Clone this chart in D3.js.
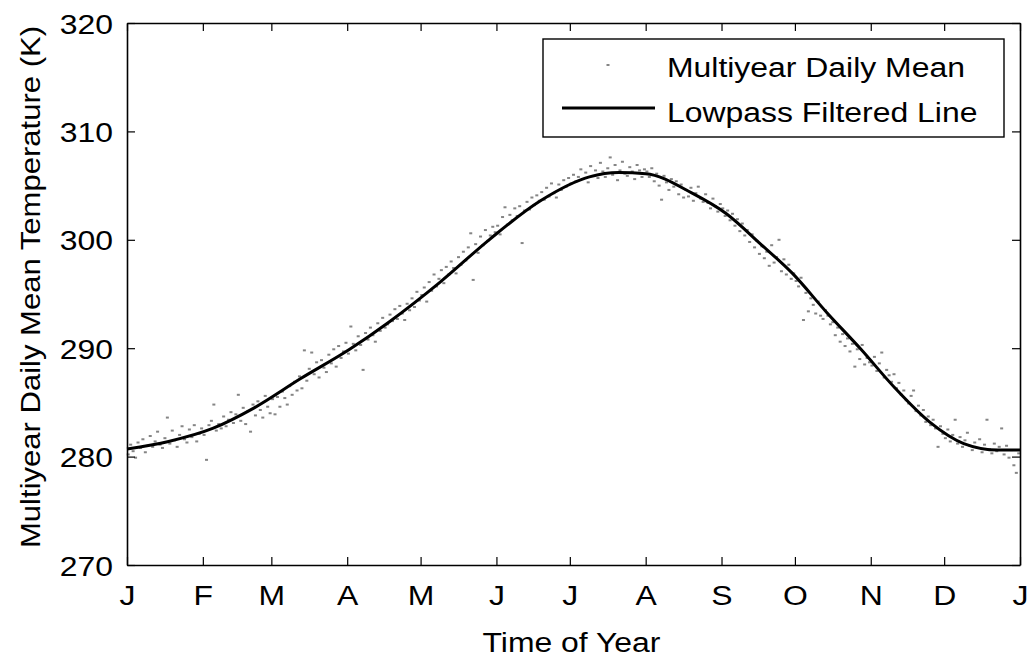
<!DOCTYPE html>
<html>
<head>
<meta charset="utf-8">
<script src="https://cdn.jsdelivr.net/npm/d3@7"></script>
<style>
  body { margin: 0; background: #fff; }
  text { font-family: "Liberation Sans", Arial, sans-serif; fill: #000; }
</style>
</head>
<body>
<svg width="1028" height="660"></svg>
<script>
// Multiyear daily mean temperature (K), one value per day, month by month
const janMean = [280.2, 281.1, 280.5, 279.9, 281.3, 280.8, 281.6, 280.4, 281.0, 281.9, 280.9, 281.4, 282.3, 281.1, 280.8, 281.7, 283.6, 281.2, 282.4, 281.5, 280.9, 282.0, 282.8, 281.6, 281.3, 282.5, 281.8, 282.9, 281.4, 282.1, 282.6];
const febMean = [282.0, 279.7, 282.9, 283.3, 284.8, 282.4, 283.0, 282.6, 283.7, 282.8, 283.4, 284.1, 283.1, 283.9, 285.7, 283.3, 284.5, 283.0, 284.2, 282.3, 284.8, 283.8, 285.1, 284.3, 283.6, 285.6, 284.6, 284.0];
const marMean = [285.3, 283.9, 285.5, 284.6, 286.0, 285.4, 284.8, 286.5, 285.7, 286.9, 286.1, 287.4, 286.3, 289.8, 287.0, 288.1, 289.6, 287.6, 288.7, 287.3, 288.9, 288.2, 287.8, 289.4, 288.6, 289.9, 288.3, 290.2, 289.1, 289.7, 290.5];
const aprMean = [289.5, 292.0, 290.4, 289.8, 291.1, 290.3, 288.0, 291.4, 290.8, 291.9, 291.2, 290.6, 292.3, 291.6, 292.8, 291.9, 292.2, 293.1, 292.5, 293.6, 292.7, 293.9, 293.2, 292.6, 294.1, 293.5, 294.6, 293.8, 295.2, 294.4];
const mayMean = [294.9, 295.6, 294.3, 296.1, 295.3, 296.8, 295.7, 296.4, 297.2, 296.0, 297.5, 296.8, 298.0, 297.4, 296.9, 298.4, 297.7, 298.9, 298.1, 299.3, 300.6, 296.3, 299.6, 298.8, 300.3, 299.5, 300.9, 299.9, 300.4, 301.2, 300.7];
const junMean = [301.3, 300.5, 302.1, 303.0, 301.4, 302.3, 301.8, 302.9, 302.2, 303.1, 299.7, 302.7, 303.5, 302.8, 303.9, 303.2, 304.1, 303.6, 304.4, 303.7, 304.8, 304.0, 305.2, 304.3, 303.9, 305.1, 304.6, 305.5, 304.9, 305.7];
const julMean = [305.2, 306.0, 305.4, 305.8, 306.5, 305.6, 306.2, 305.3, 306.8, 305.9, 306.4, 305.7, 307.1, 306.3, 305.8, 306.6, 307.6, 306.0, 306.9, 305.5, 306.4, 307.2, 306.1, 305.9, 306.7, 306.3, 305.6, 306.9, 306.4, 305.8, 306.5];
const augMean = [306.3, 305.8, 306.6, 305.4, 306.1, 305.0, 303.7, 305.9, 305.3, 304.6, 305.6, 304.9, 305.4, 304.2, 305.1, 303.9, 304.6, 304.0, 304.8, 303.6, 304.3, 304.9, 303.8, 303.5, 304.2, 303.4, 302.9, 303.8, 303.1, 302.6, 303.3];
const sepMean = [302.9, 302.2, 302.7, 301.8, 302.4, 301.3, 301.9, 300.8, 301.5, 300.4, 300.9, 299.8, 300.5, 299.3, 299.9, 298.7, 299.4, 298.3, 298.9, 297.6, 299.5, 297.9, 298.4, 300.0, 297.1, 298.2, 296.8, 297.7, 296.4, 296.9];
const octMean = [296.2, 295.7, 296.5, 292.6, 295.1, 293.4, 294.6, 294.0, 293.2, 294.3, 293.0, 292.7, 293.5, 293.0, 292.2, 292.4, 291.2, 291.9, 290.6, 291.3, 290.2, 290.9, 289.7, 290.4, 288.3, 289.9, 289.0, 290.3, 288.5, 289.1, 288.7];
const novMean = [288.4, 289.2, 287.9, 288.6, 289.6, 287.3, 288.0, 287.5, 286.9, 287.6, 286.3, 286.8, 285.7, 286.1, 285.2, 284.9, 285.6, 286.1, 284.2, 284.7, 283.8, 284.3, 283.2, 283.7, 282.9, 283.4, 282.6, 280.9, 282.8, 282.1];
const decMean = [281.7, 282.5, 281.4, 282.0, 283.4, 281.2, 281.8, 280.9, 281.5, 282.2, 281.0, 280.6, 281.3, 280.8, 281.6, 280.4, 281.1, 283.4, 280.7, 280.3, 281.2, 280.5, 280.9, 282.6, 280.2, 281.0, 279.9, 280.6, 279.2, 278.5, 280.3];

// Lowpass filtered line, read at these days of year
const lowpassDays = [0, 17, 35, 52, 71, 91, 107, 128, 148, 169, 189, 201, 212, 231, 245, 259, 272, 286, 300, 314, 328, 342, 356, 365];
const lowpassTemp = [280.7, 281.4, 282.6, 284.5, 287.2, 289.9, 292.4, 296.1, 300.0, 303.6, 305.8, 306.2, 306.1, 304.3, 302.4, 299.6, 296.9, 293.3, 289.9, 286.3, 283.2, 281.2, 280.6, 280.6];

// Axis ticks
const monthStarts = [0, 31, 59, 90, 120, 151, 181, 212, 243, 273, 304, 334, 365];
const monthLabels = ["J", "F", "M", "A", "M", "J", "J", "A", "S", "O", "N", "D", "J"];
const tempTicks = [270, 280, 290, 300, 310, 320];

const dailyMean = [].concat(janMean, febMean, marMean, aprMean, mayMean, junMean,
  julMean, augMean, sepMean, octMean, novMean, decMean);

const svg = d3.select("svg");
const width = +svg.attr("width");
const height = +svg.attr("height");
const margin = {top: 23, left: 127, bottom: 95, right: 8};
const stretch = 1.14; // text in the picture is a bit wider than Arial

const x = d3.scaleLinear().domain([0, 365]).range([margin.left, width - margin.right]);
const y = d3.scaleLinear().domain([270, 320]).range([height - margin.bottom, margin.top]);

svg.append("rect").attr("width", width).attr("height", height).attr("fill", "#fff");

// scatter of daily means
svg.append("g")
  .selectAll("rect")
  .data(dailyMean)
  .enter().append("rect")
    .attr("x", (d, i) => x(i + 0.5) - 1.5)
    .attr("y", d => y(d) - 1)
    .attr("width", 3)
    .attr("height", 2)
    .attr("fill", "#333")
    .attr("opacity", 0.6);

// lowpass line
const line = d3.line()
  .x((d, i) => x(lowpassDays[i]))
  .y(d => y(d))
  .curve(d3.curveMonotoneX);

svg.append("path")
  .attr("d", line(lowpassTemp))
  .attr("fill", "none")
  .attr("stroke", "#000")
  .attr("stroke-width", 3);

// axes (ticks point inward, box on all sides)
const styleAxis = g => {
  g.selectAll(".domain").attr("stroke", "#000").attr("stroke-width", 1.6);
  g.selectAll(".tick line").attr("stroke", "#000").attr("stroke-width", 1.2);
};

const xAxisG = svg.append("g")
  .attr("transform", `translate(0, ${height - margin.bottom})`)
  .call(d3.axisBottom(x).tickValues(monthStarts).tickFormat((d, i) => monthLabels[i])
    .tickSizeInner(-8).tickSizeOuter(0))
  .call(styleAxis);
xAxisG.selectAll("text")
  .attr("y", 0).attr("dy", null)
  .attr("font-size", 28)
  .attr("font-family", "Liberation Sans, Arial, sans-serif")
  .attr("transform", `translate(0, 40) scale(${stretch}, 1)`);

const yAxisG = svg.append("g")
  .attr("transform", `translate(${margin.left}, 0)`)
  .call(d3.axisLeft(y).tickValues(tempTicks).tickSizeInner(-8).tickSizeOuter(0))
  .call(styleAxis);
yAxisG.selectAll("text")
  .attr("x", 0).attr("dy", null)
  .attr("font-size", 28)
  .attr("font-family", "Liberation Sans, Arial, sans-serif")
  .attr("transform", `translate(-14, 10) scale(${stretch}, 1)`);

svg.append("g")
  .attr("transform", `translate(0, ${margin.top})`)
  .call(d3.axisTop(x).tickValues(monthStarts).tickFormat("").tickSizeInner(-8).tickSizeOuter(0))
  .call(styleAxis);

svg.append("g")
  .attr("transform", `translate(${width - margin.right}, 0)`)
  .call(d3.axisRight(y).tickValues(tempTicks).tickFormat("").tickSizeInner(-8).tickSizeOuter(0))
  .call(styleAxis);

// axis titles
svg.append("text")
  .attr("transform", `translate(${(x(0) + x(365)) / 2 - 2}, 652) scale(${stretch}, 1)`)
  .attr("text-anchor", "middle")
  .attr("font-size", 28)
  .text("Time of Year");

svg.append("text")
  .attr("transform", `translate(40, ${(y(270) + y(320)) / 2 - 7}) rotate(-90)`)
  .attr("text-anchor", "middle")
  .attr("font-size", 28)
  .attr("textLength", 522)
  .attr("lengthAdjust", "spacingAndGlyphs")
  .text("Multiyear Daily Mean Temperature (K)");

// legend
const legend = svg.append("g");
legend.append("rect")
  .attr("x", 543).attr("y", 39)
  .attr("width", 461).attr("height", 98)
  .attr("fill", "#fff")
  .attr("stroke", "#000")
  .attr("stroke-width", 1.4);

legend.append("rect")
  .attr("x", 606.5).attr("y", 64)
  .attr("width", 3).attr("height", 2)
  .attr("fill", "#333").attr("opacity", 0.6);

legend.append("line")
  .attr("x1", 562).attr("x2", 655)
  .attr("y1", 108).attr("y2", 108)
  .attr("stroke", "#000").attr("stroke-width", 3);

legend.append("text")
  .attr("transform", `translate(667, 77) scale(${stretch}, 1)`)
  .attr("font-size", 28)
  .text("Multiyear Daily Mean");

legend.append("text")
  .attr("transform", `translate(667, 122) scale(${stretch}, 1)`)
  .attr("font-size", 28)
  .text("Lowpass Filtered Line");
</script>
</body>
</html>
